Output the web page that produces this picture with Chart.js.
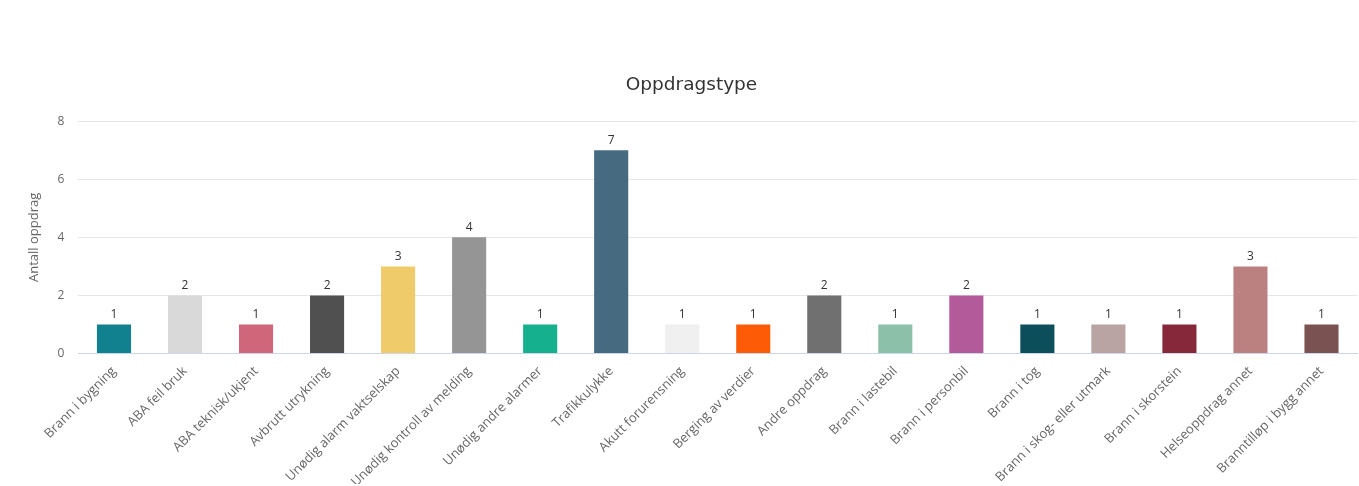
<!DOCTYPE html>
<html>
<head>
<meta charset="utf-8">
<script src="https://cdn.jsdelivr.net/npm/chart.js@4"></script>
<style>
html,body{margin:0;padding:0;background:#fff;}
#wrap{width:1359px;height:486px;position:relative;}
</style>
</head>
<body>
<div id="wrap"><canvas id="c"></canvas></div>
<script>
const categories = ["Brann i bygning","ABA feil bruk","ABA teknisk/ukjent","Avbrutt utrykning","Unødig alarm vaktselskap","Unødig kontroll av melding","Unødig andre alarmer","Trafikkulykke","Akutt forurensning","Berging av verdier","Andre oppdrag","Brann i lastebil","Brann i personbil","Brann i tog","Brann i skog- eller utmark","Brann i skorstein","Helseoppdrag annet","Branntilløp i bygg annet"];
const values = [1,2,1,2,3,4,1,7,1,1,2,1,2,1,1,1,3,1];
const barColors = ["#11808f","#d9d9d9","#d0667a","#505050","#f0cb69","#959595","#15b18e","#466a80","#f0f0f0","#fd5b06","#707070","#8dc0a8","#b25a9a","#0c4f5a","#b9a3a3","#87283a","#bb8181","#7a5252"];
const yTicks = [0,2,4,6,8];

const dataLabels = {
  id:'dataLabels',
  afterDatasetsDraw(chart){
    const ctx = chart.ctx;
    ctx.save();
    ctx.font = '12px "Open Sans", sans-serif';
    ctx.fillStyle = '#333';
    ctx.textAlign = 'center';
    ctx.textBaseline = 'bottom';
    chart.getDatasetMeta(0).data.forEach((el,i)=>{
      ctx.fillText(String(values[i]), el.x, el.y - 4);
    });
    ctx.restore();
  }
};

new Chart(document.getElementById('c'),{
  type:'bar',
  data:{labels:categories,datasets:[{data:values,backgroundColor:barColors,borderWidth:0,barPercentage:0.48,categoryPercentage:1}]},
  options:{
    responsive:true,maintainAspectRatio:false,animation:false,
    layout:{padding:{left:26,right:2,top:74,bottom:2}},
    plugins:{
      legend:{display:false},tooltip:{enabled:false},
      title:{display:true,text:'Oppdragstype',color:'#333',font:{family:'"DejaVu Sans", sans-serif',size:18.5,weight:'normal'},padding:{top:0,bottom:25}}
    },
    scales:{
      x:{
        afterFit(s){ s.height -= 16; },
        grid:{display:false,drawTicks:false},
        border:{display:true,color:'#ccd6eb'},
        ticks:{color:'#666',font:{family:'"Open Sans", sans-serif',size:13},maxRotation:45,minRotation:45,padding:10,autoSkip:false}
      },
      y:{
        min:0,max:8,
        afterBuildTicks(s){s.ticks = yTicks.map(v=>({value:v}));},
        grid:{color:'#e6e6e6',drawTicks:false},
        border:{display:false},
        ticks:{color:'#666',font:{family:'"Open Sans", sans-serif',size:12},padding:14},
        title:{display:true,text:'Antall oppdrag',color:'#666',font:{family:'"Open Sans", sans-serif',size:13},padding:{top:0,bottom:2}}
      }
    }
  },
  plugins:[dataLabels]
});
</script>
</body>
</html>
